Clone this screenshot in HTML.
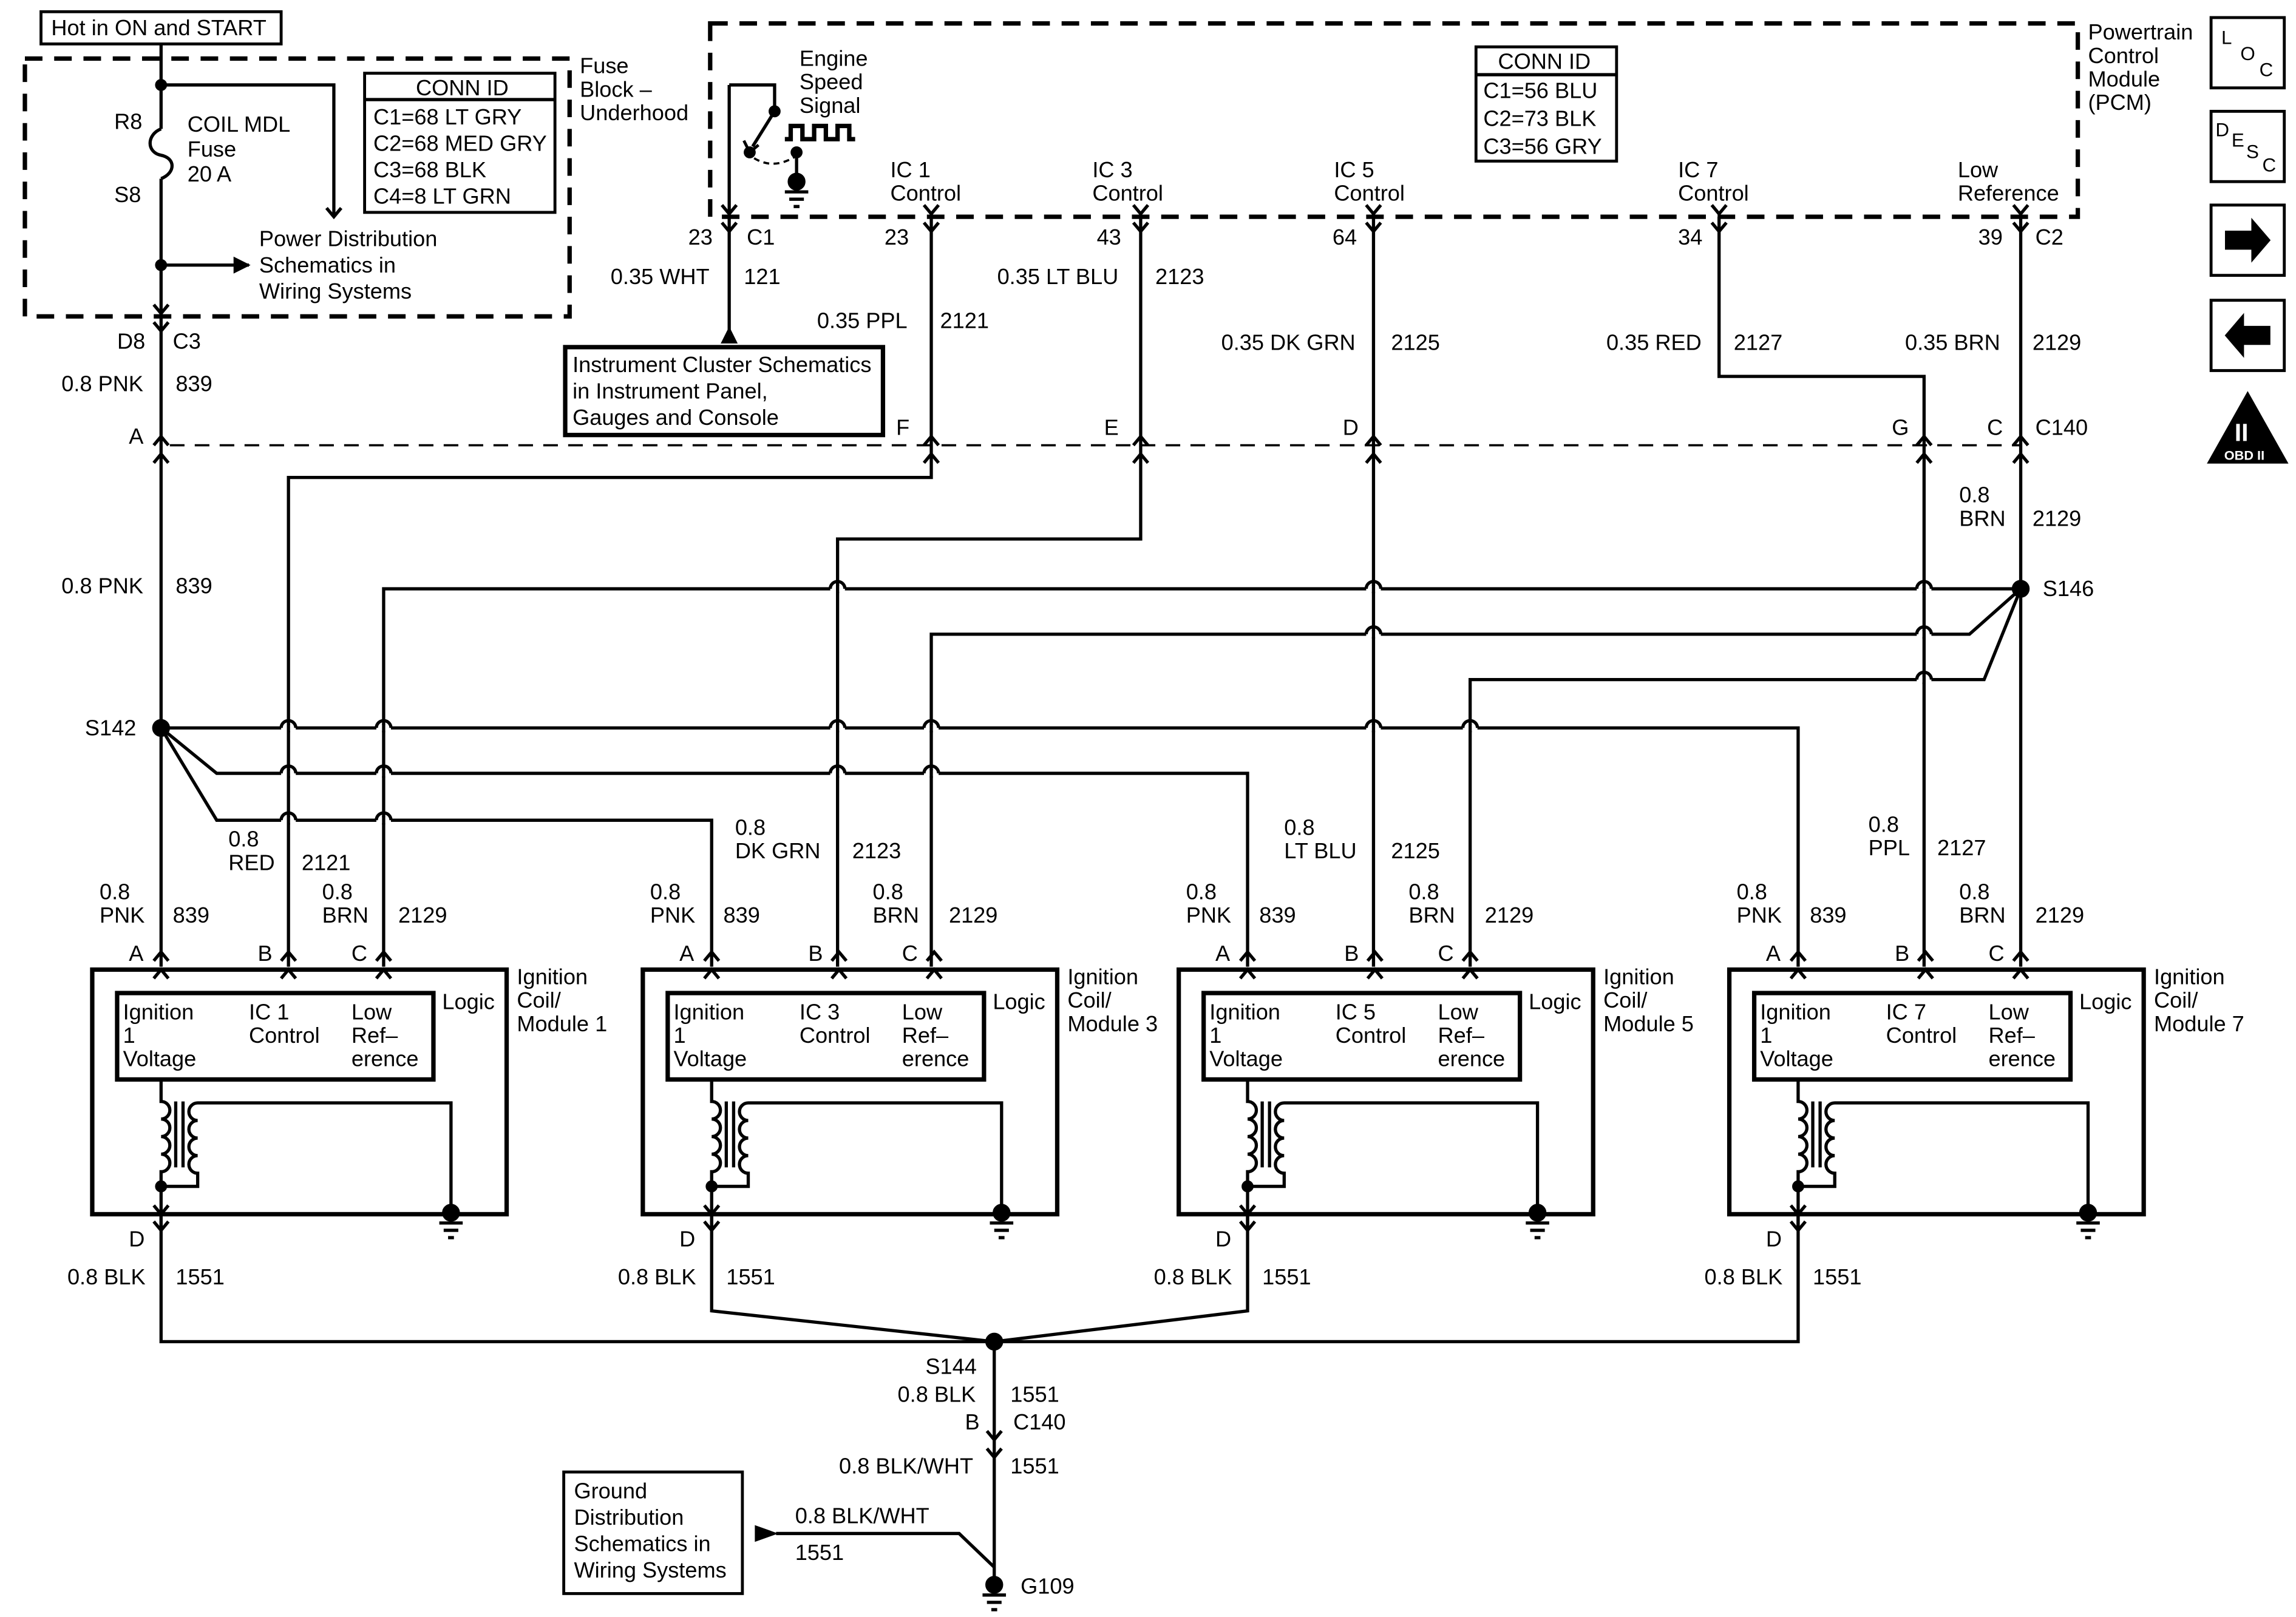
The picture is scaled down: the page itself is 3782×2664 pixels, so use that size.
<!DOCTYPE html>
<html><head><meta charset="utf-8"><style>
html,body{margin:0;padding:0;background:#fff}
svg{display:block}
text{font-family:"Liberation Sans",Arial,sans-serif;font-size:15px;fill:#000}
</style></head><body>
<svg id="s" xmlns="http://www.w3.org/2000/svg" width="3782" height="2664" viewBox="0 0 1568 1104" preserveAspectRatio="none">
<rect width="1568" height="1104" fill="#fff"/>
<g id="g" fill="none" stroke="#000" stroke-width="2.2"></g>
<g id="t"></g>
</svg>
<script>
var G=document.getElementById('g'),T=document.getElementById('t'),h='',tx='';
function P(d,w,f,dash){h+='<path d="'+d+'"'+(w?' stroke-width="'+w+'"':'')+(f?' fill="'+f+'"':'')+(dash?' stroke-dasharray="'+dash+'"':'')+'/>';}
function L(pts,w,dash){var d='M'+pts.map(function(p){return p[0]+' '+p[1]}).join(' L');P(d,w,0,dash);}
function R(x,y,w,hh,sw,dash){h+='<rect x="'+x+'" y="'+y+'" width="'+w+'" height="'+hh+'"'+(sw?' stroke-width="'+sw+'"':'')+(dash?' stroke-dasharray="'+dash+'"':'')+'/>';}
function D(x,y,r){h+='<circle cx="'+x+'" cy="'+y+'" r="'+(r||5)+'" fill="#000"/>';}
function X(x,y,s,extra){tx+='<text x="'+x+'" y="'+y+'"'+(extra||'')+'>'+s+'</text>';}
function M(x,y,lines,dy){lines.forEach(function(s,i){X(x,y+i*(dy||16),s);});}
function cd(x,y){P('M'+(x-5)+' '+(y-6)+' L'+x+' '+y+' L'+(x+5)+' '+(y-6));}
function cu(x,y){P('M'+(x-5)+' '+(y+6)+' L'+x+' '+y+' L'+(x+5)+' '+(y+6));}
function gnd(x,y){D(x,y,5);L([[x-8,y+7],[x+8,y+7]]);L([[x-5,y+12],[x+5,y+12]]);L([[x-2,y+17],[x+2,y+17]]);}
function hop(x,y){h+='<rect x="'+(x-5)+'" y="'+(y-2)+'" width="10" height="4" fill="#fff" stroke="none"/>';L([[x,y-3],[x,y+3]]);P('M'+(x-5)+' '+y+' A5 5 0 0 1 '+(x+5)+' '+y);}

R(28,8,164,22,2);X(35,24,'Hot in ON and START');
R(17,40,372,176,3,'12 8');
L([[110,30],[110,88]]);P('M110 88 C100 92 100 104 110 106 C120 108 120 118 110 122');L([[110,122],[110,216]]);
D(110,58,3);L([[110,58],[228,58],[228,148]]);cd(228,148);
D(110,181,3);L([[110,181],[170,181]]);P('M160 176 L170 181 L160 186 Z',1,'#000');
M(78,88,['R8']);X(78,138,'S8');M(128,90,['COIL MDL','Fuse','20 A'],17);
R(249,50,130,95,2);L([[249,68],[379,68]]);X(284,65,'CONN ID');M(255,85,['C1=68 LT GRY','C2=68 MED GRY','C3=68 BLK','C4=8 LT GRN'],18);
M(177,168,['Power Distribution','Schematics in','Wiring Systems'],18);
M(396,50,['Fuse','Block –','Underhood'],16);
cd(110,214);cd(110,226);L([[110,216],[110,300]]);
X(80,238,'D8');X(118,238,'C3');X(42,267,'0.8 PNK');X(120,267,'839');

R(485,16,934,132,3,'12 8');
M(1426,27,['Powertrain','Control','Module','(PCM)'],16);
R(1008,32,96,78,2);L([[1008,51],[1104,51]]);X(1023,47,'CONN ID');M(1013,67,['C1=56 BLU','C2=73 BLK','C3=56 GRY'],19);
M(546,45,['Engine','Speed','Signal'],16);
L([[498,58],[529,58],[529,76]]);D(529,76,3);D(512,104,3);L([[529,76],[514,100]]);P('M508 96 L512 104 L518 99',2);
P('M515 108 Q528 116 543 107',1.5,0,'4 3');D(544,104,3);L([[544,104],[544,124]]);gnd(544,124);
L([[536,95],[540,95],[540,86],[548,86],[548,95],[556,95],[556,86],[564,86],[564,95],[572,95],[572,86],[580,86],[580,95],[584,95]],3);
L([[498,58],[498,146]]);cd(498,146);cd(498,158);L([[498,148],[498,232]]);P('M493 234 L498 224 L503 234 Z',1,'#000');
X(470,167,'23');X(510,167,'C1');X(417,194,'0.35 WHT');X(508,194,'121');
R(386,237,217,60,3);M(391,254,['Instrument Cluster Schematics','in Instrument Panel,','Gauges and Console'],18);

var pins=[[636,'IC 1','Control','23',604,608],[779,'IC 3','Control','43',749,746],[938,'IC 5','Control','64',910,911],[1174,'IC 7','Control','34',1146,1146]];
pins.forEach(function(p){M(p[5],121,[p[1],p[2]],16);X(p[4],167,p[3]);cd(p[0],146);cd(p[0],158);});
M(1337,121,['Low','Reference'],16);X(1351,167,'39');X(1390,167,'C2');cd(1380,146);cd(1380,158);
X(558,224,'0.35 PPL');X(642,224,'2121');
X(681,194,'0.35 LT BLU');X(789,194,'2123');
X(834,239,'0.35 DK GRN');X(950,239,'2125');
X(1097,239,'0.35 RED');X(1184,239,'2127');
X(1301,239,'0.35 BRN');X(1388,239,'2129');
L([[636,148],[636,326],[197,326],[197,660]]);
L([[779,148],[779,368],[572,368],[572,660]]);
L([[938,148],[938,660]]);
L([[1174,148],[1174,257],[1314,257],[1314,660]]);
L([[1380,148],[1380,660]]);
L([[116,304],[1380,304]],1.5,'10 7');
[110,636,779,938,1314,1380].forEach(function(x){cu(x,298);cu(x,310);});
X(88,303,'A');X(612,297,'F');X(754,297,'E');X(917,297,'D');X(1292,297,'G');X(1357,297,'C');X(1390,297,'C140');
L([[110,300],[110,660]]);
X(1338,343,'0.8');X(1338,359,'BRN');X(1388,359,'2129');
X(42,405,'0.8 PNK');X(120,405,'839');
D(1380,402,5);X(1395,407,'S146');
L([[1380,402],[262,402],[262,660]]);
L([[1380,402],[1345,433],[636,433],[636,660]]);
L([[1380,402],[1355,464],[1004,464],[1004,660]]);
D(110,497,5);X(58,502,'S142');
L([[110,497],[1228,497],[1228,660]]);
L([[110,497],[148,528],[852,528],[852,660]]);
L([[110,497],[148,560],[486,560],[486,660]]);
[572,938,1314].forEach(function(x){hop(x,402);});
[938,1314].forEach(function(x){hop(x,433);});
hop(1314,464);
[197,262,572,636,938,1004].forEach(function(x){hop(x,497);});
[197,262,572,636].forEach(function(x){hop(x,528);});
[197,262].forEach(function(x){hop(x,560);});
M(156,578,['0.8','RED']);X(206,594,'2121');
M(502,570,['0.8','DK GRN']);X(582,586,'2123');
M(877,570,['0.8','LT BLU']);X(950,586,'2125');
M(1276,568,['0.8','PPL']);X(1323,584,'2127');
var offs=[[0,1],[376,3],[742,5],[1118,7]];
offs.forEach(function(m){var o=m[0],n=m[1];
 M(68+o,614,['0.8','PNK']);X(118+o,630,'839');M(220+o,614,['0.8','BRN']);X(272+o,630,'2129');
 X(88+o,656,'A');X(176+o,656,'B');X(240+o,656,'C');
 [110,197,262].forEach(function(x){cu(x+o,650);cu(x+o,662);});
 R(63+o,662,283,167,3);R(80+o,678,216,59,3);
 M(84+o,696,['Ignition','1','Voltage'],16);M(170+o,696,['IC '+n,'Control'],16);M(240+o,696,['Low','Ref–','erence'],16);
 X(302+o,689,'Logic');M(353+o,672,['Ignition','Coil/','Module '+n],16);
 var x=110+o,d='M'+x+' 737 L'+x+' 752';for(var i=0;i<4;i++){d+=' A6 6 0 0 1 '+x+' '+(764+i*12);}d+=' L'+x+' 840';P(d);
 L([[x+10,752],[x+10,797]]);L([[x+15,752],[x+15,797]]);
 var sx=x+25,d2='M'+(x+198)+' 828 L'+(x+198)+' 753 L'+sx+' 753';for(i=0;i<4;i++){d2+=' A6 6 0 0 0 '+sx+' '+(765+i*12);}d2+=' L'+sx+' 810 L'+x+' 810';P(d2);
 D(x,810,3);gnd(x+198,828);
 cd(x,829);cd(x,840);
 X(88+o,851,'D');X(46+o,877,'0.8 BLK');X(120+o,877,'1551');
});
L([[110,829],[110,916],[679,916]]);L([[1228,829],[1228,916],[679,916]]);
L([[486,829],[486,895],[679,916]]);L([[852,829],[852,895],[679,916]]);
D(679,916,5);X(632,938,'S144');X(613,957,'0.8 BLK');X(690,957,'1551');X(659,976,'B');X(692,976,'C140');
cd(679,983);cd(679,995);L([[679,916],[679,1082]]);
X(573,1006,'0.8 BLK/WHT');X(690,1006,'1551');
gnd(679,1082);X(697,1088,'G109');
R(385,1005,122,83,2);M(392,1023,['Ground','Distribution','Schematics in','Wiring Systems'],18);
P('M516 1042 L530 1047 L516 1052 Z',1,'#000');L([[530,1047],[655,1047],[679,1070]]);
X(543,1040,'0.8 BLK/WHT');X(543,1065,'1551');
R(1510,12,50,48,2);X(1517,30,'L',' style="font-size:13px"');X(1530,41,'O',' style="font-size:13px"');X(1543,52,'C',' style="font-size:13px"');
R(1510,76,50,48,2);X(1513,93,'D',' style="font-size:13px"');X(1524,100,'E',' style="font-size:13px"');X(1534,108,'S',' style="font-size:13px"');X(1545,117,'C',' style="font-size:13px"');
R(1510,140,50,48,2);P('M1520 158 L1538 158 L1538 150 L1550 164 L1538 178 L1538 170 L1520 170 Z',1,'#000');
R(1510,205,50,48,2);P('M1550 223 L1532 223 L1532 215 L1520 229 L1532 243 L1532 235 L1550 235 Z',1,'#000');
P('M1535 268 L1562 316 L1508 316 Z',1,'#000');
G.innerHTML=h;
T.innerHTML=tx+'<text x="1526" y="301" style="font-size:17px;font-weight:bold;fill:#fff">II</text><text x="1519" y="314" style="font-size:9px;font-weight:bold;fill:#fff">OBD II</text>';
</script>
</body></html>
